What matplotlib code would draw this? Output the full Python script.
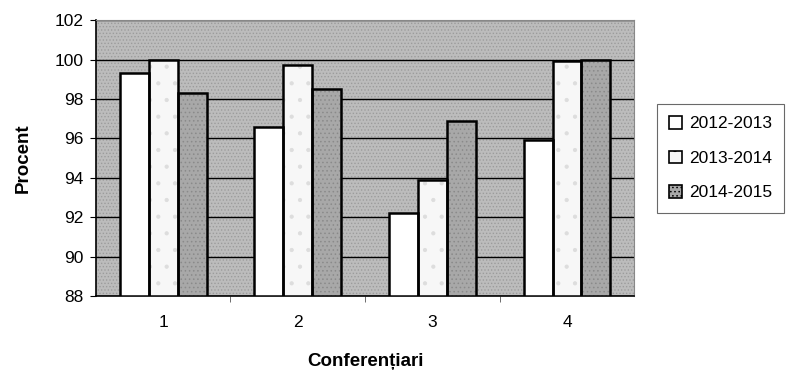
import matplotlib
matplotlib.use("Agg")
import matplotlib.pyplot as plt
import numpy as np

plt.rcParams['font.family'] = ['Liberation Sans', 'DejaVu Sans']
plt.rcParams['hatch.linewidth'] = 0.6

categories = ["1", "2", "3", "4"]
series_names = ["2012-2013", "2013-2014", "2014-2015"]
v_2012 = [99.3, 96.6, 92.2, 95.9]
v_2013 = [100.0, 99.7, 93.9, 99.9]
v_2014 = [98.3, 98.5, 96.9, 100.0]
y_ticks = [88, 90, 92, 94, 96, 98, 100, 102]

fig = plt.figure(figsize=(7.86, 3.79), dpi=100)
ax = fig.add_axes([0.122, 0.219, 0.685, 0.728])

ax.set_facecolor('#bcbcbc')
ax.patch.set_hatch('.....')
ax.patch.set_edgecolor('#9c9c9c')

x = np.arange(len(categories))
w = 0.215
styles = [
    dict(facecolor='white', hatch=None, hc='white'),
    dict(facecolor='#f7f7f7', hatch='.', hc='#dddddd'),
    dict(facecolor='#a8a8a8', hatch='....', hc='#8a8a8a'),
]
data = [v_2012, v_2013, v_2014]
base = 88
handles = []
for i, (vals, st) in enumerate(zip(data, styles)):
    heights = [v - base for v in vals]
    bars = ax.bar(x + (i - 1) * w, heights, w, bottom=base, facecolor=st['facecolor'],
                  edgecolor=st['hc'], hatch=st['hatch'], linewidth=0, zorder=3,
                  label=series_names[i])
    ax.bar(x + (i - 1) * w, heights, w, bottom=base, facecolor='none',
           edgecolor='black', linewidth=1.8, zorder=4)
    handles.append(bars)

ax.set_ylim(88, 102)
ax.set_xlim(-0.5, 3.5)
ax.set_yticks(y_ticks)
ax.set_yticklabels([str(t) for t in y_ticks], fontsize=12.5)
ax.set_xticks(x)
ax.set_xticklabels(categories, fontsize=12.5)
ax.tick_params(axis='x', length=0, pad=14)
ax.set_xticks([0.5, 1.5, 2.5], minor=True)
ax.tick_params(axis='x', which='minor', length=4, color='#555555')
ax.tick_params(axis='y', length=4, pad=5)

ax.yaxis.grid(True, color='black', linewidth=1.0, zorder=1)
ax.set_axisbelow(True)

for s in ['left', 'bottom']:
    ax.spines[s].set_color('black')
    ax.spines[s].set_linewidth(1.2)
for s in ['top', 'right']:
    ax.spines[s].set_color('#888888')
    ax.spines[s].set_linewidth(0.8)

ax.set_ylabel('Procent', fontsize=13.5, fontweight='bold', labelpad=16)
ax.set_xlabel('Conferențiari', fontsize=13.5, fontweight='bold', labelpad=16)

leg = fig.legend(handles=handles, labels=series_names, loc='upper left',
                 bbox_to_anchor=(0.836, 0.726), fontsize=12.5, frameon=True,
                 fancybox=False, handlelength=0.75, handleheight=0.75,
                 handletextpad=0.4, labelspacing=1.1, borderpad=0.7,
                 borderaxespad=0)
leg.get_frame().set_edgecolor('#444444')
leg.get_frame().set_linewidth(0.8)
for h in leg.legend_handles:
    h.set_edgecolor('black')
    h.set_linewidth(1.2)

fig.savefig('out.png', dpi=100)
